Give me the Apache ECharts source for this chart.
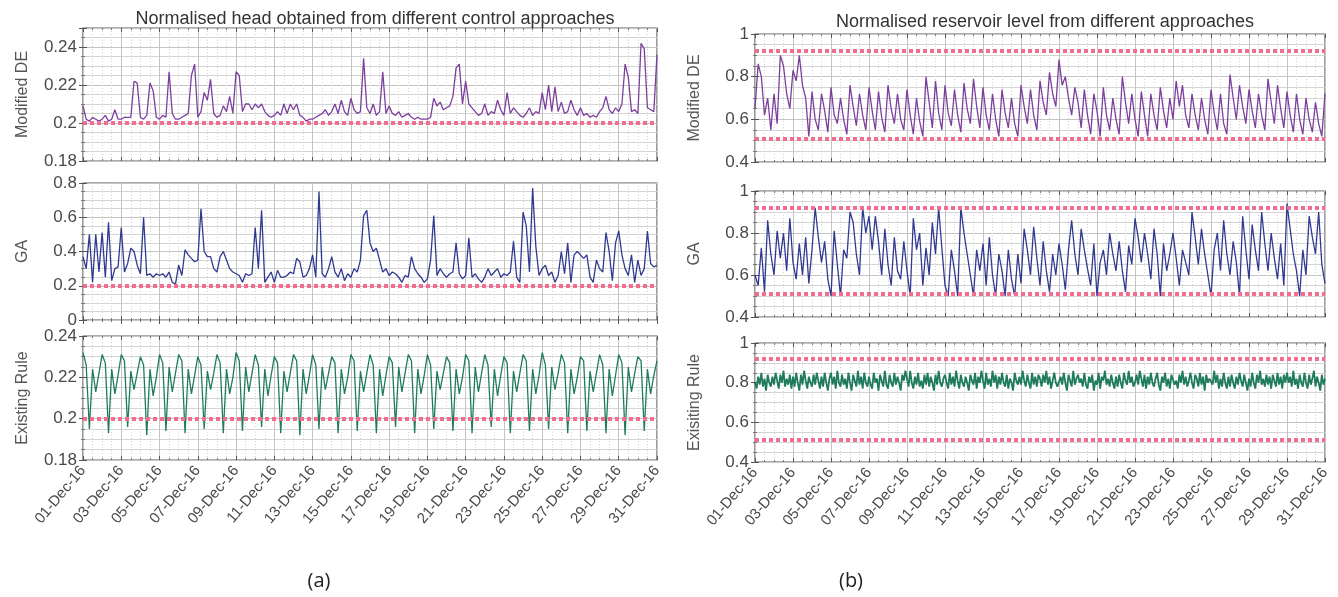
<html>
<head>
<meta charset="UTF-8"/>
<title>Normalised head and reservoir level</title>
<script src="https://cdn.jsdelivr.net/npm/echarts@6/dist/echarts.min.js"></script>
</head>
<body style="margin:0;background:#fff">
<div id="main" style="width:1338px;height:597px;"></div>
<script>
// samples cover 01-Dec-16 .. 31-Dec-16 (30 days); 4-hourly except levelRule (2-hourly)
var spanDays = 30;
var headLimit = 0.2;
var levelLimits = [0.51, 0.915];

var headDE = [
 0.209,0.202,0.201,0.203,0.202,0.201,
 0.202,0.204,0.201,0.202,0.207,0.202,
 0.202,0.203,0.203,0.203,0.222,0.221,
 0.203,0.202,0.204,0.221,0.217,0.203,
 0.202,0.204,0.203,0.227,0.205,0.202,
 0.202,0.203,0.204,0.205,0.225,0.231,
 0.203,0.206,0.216,0.212,0.223,0.205,
 0.203,0.204,0.209,0.206,0.214,0.205,
 0.227,0.225,0.206,0.210,0.210,0.207,
 0.210,0.208,0.210,0.206,0.204,0.203,
 0.204,0.206,0.204,0.210,0.205,0.210,
 0.207,0.210,0.204,0.203,0.201,0.202,
 0.202,0.203,0.204,0.205,0.207,0.204,
 0.206,0.210,0.205,0.212,0.206,0.204,
 0.213,0.207,0.205,0.206,0.234,0.208,
 0.205,0.210,0.204,0.206,0.227,0.205,
 0.209,0.205,0.204,0.206,0.203,0.204,
 0.205,0.203,0.202,0.203,0.202,0.202,
 0.202,0.203,0.213,0.209,0.211,0.207,
 0.208,0.209,0.214,0.229,0.231,0.210,
 0.222,0.210,0.208,0.206,0.204,0.205,
 0.210,0.204,0.206,0.205,0.212,0.207,
 0.204,0.216,0.205,0.208,0.206,0.204,
 0.203,0.205,0.208,0.204,0.206,0.205,
 0.216,0.207,0.220,0.206,0.219,0.206,
 0.211,0.205,0.206,0.212,0.207,0.204,
 0.208,0.204,0.205,0.203,0.204,0.203,
 0.206,0.208,0.214,0.207,0.205,0.208,
 0.206,0.210,0.231,0.224,0.206,0.207,
 0.205,0.242,0.239,0.208,0.207,0.206,
 0.236];

var headGA = [
 0.37,0.30,0.50,0.22,0.50,0.28,
 0.51,0.25,0.57,0.23,0.30,0.31,
 0.54,0.28,0.33,0.42,0.40,0.32,
 0.27,0.60,0.26,0.27,0.25,0.27,
 0.26,0.27,0.25,0.28,0.22,0.21,
 0.32,0.26,0.41,0.38,0.36,0.34,
 0.35,0.65,0.40,0.37,0.37,0.30,
 0.28,0.37,0.40,0.35,0.30,0.28,
 0.27,0.26,0.22,0.27,0.26,0.27,
 0.54,0.30,0.64,0.22,0.25,0.28,
 0.22,0.29,0.25,0.25,0.26,0.28,
 0.27,0.36,0.34,0.25,0.26,0.30,
 0.38,0.25,0.75,0.27,0.25,0.30,
 0.37,0.28,0.25,0.30,0.23,0.27,
 0.25,0.30,0.28,0.35,0.61,0.64,
 0.45,0.40,0.42,0.35,0.28,0.30,
 0.26,0.28,0.27,0.25,0.22,0.26,
 0.25,0.37,0.30,0.27,0.25,0.22,
 0.24,0.35,0.61,0.26,0.30,0.27,
 0.25,0.27,0.28,0.45,0.27,0.24,
 0.26,0.48,0.25,0.27,0.24,0.22,
 0.25,0.30,0.26,0.28,0.30,0.25,
 0.27,0.26,0.28,0.46,0.25,0.22,
 0.63,0.55,0.28,0.77,0.43,0.26,
 0.30,0.32,0.26,0.28,0.22,0.26,
 0.40,0.27,0.45,0.22,0.38,0.40,
 0.38,0.36,0.38,0.25,0.22,0.35,
 0.30,0.28,0.51,0.40,0.23,0.45,
 0.52,0.38,0.30,0.26,0.38,0.22,
 0.35,0.26,0.30,0.52,0.33,0.31,
 0.32];

var headRule = [
 0.232,0.226,0.195,0.224,0.213,0.222,
 0.231,0.227,0.193,0.224,0.212,0.221,
 0.231,0.228,0.196,0.223,0.214,0.222,
 0.230,0.226,0.192,0.224,0.211,0.220,
 0.231,0.227,0.194,0.225,0.213,0.222,
 0.231,0.228,0.193,0.224,0.212,0.221,
 0.230,0.226,0.195,0.223,0.214,0.222,
 0.231,0.227,0.193,0.224,0.212,0.220,
 0.232,0.228,0.194,0.225,0.213,0.222,
 0.231,0.226,0.196,0.224,0.211,0.221,
 0.230,0.227,0.193,0.223,0.213,0.222,
 0.231,0.228,0.192,0.224,0.212,0.221,
 0.231,0.226,0.195,0.225,0.214,0.222,
 0.230,0.227,0.193,0.224,0.212,0.220,
 0.231,0.228,0.194,0.223,0.213,0.222,
 0.231,0.226,0.193,0.224,0.211,0.221,
 0.230,0.227,0.196,0.225,0.213,0.222,
 0.231,0.228,0.193,0.224,0.212,0.221,
 0.231,0.226,0.195,0.223,0.214,0.222,
 0.230,0.227,0.194,0.224,0.212,0.220,
 0.231,0.228,0.193,0.225,0.213,0.222,
 0.231,0.226,0.196,0.224,0.211,0.221,
 0.230,0.227,0.193,0.223,0.213,0.222,
 0.231,0.228,0.194,0.224,0.212,0.221,
 0.232,0.226,0.195,0.225,0.214,0.222,
 0.231,0.227,0.193,0.224,0.212,0.220,
 0.230,0.228,0.194,0.223,0.213,0.222,
 0.231,0.226,0.193,0.224,0.211,0.221,
 0.231,0.227,0.192,0.225,0.213,0.222,
 0.230,0.228,0.194,0.224,0.212,0.221,
 0.228];

var levelDE = [
 0.65,0.86,0.80,0.62,0.70,0.55,
 0.72,0.58,0.90,0.85,0.72,0.65,
 0.83,0.78,0.90,0.76,0.70,0.52,
 0.73,0.60,0.55,0.72,0.64,0.54,
 0.75,0.62,0.58,0.70,0.60,0.53,
 0.76,0.66,0.57,0.72,0.62,0.55,
 0.75,0.64,0.55,0.73,0.61,0.54,
 0.76,0.65,0.58,0.72,0.60,0.55,
 0.74,0.62,0.53,0.70,0.59,0.52,
 0.80,0.68,0.56,0.78,0.63,0.55,
 0.76,0.63,0.57,0.74,0.62,0.54,
 0.77,0.65,0.58,0.79,0.66,0.56,
 0.75,0.62,0.55,0.72,0.60,0.52,
 0.74,0.63,0.56,0.70,0.58,0.52,
 0.76,0.66,0.58,0.74,0.62,0.55,
 0.78,0.68,0.62,0.82,0.72,0.66,
 0.88,0.76,0.80,0.70,0.62,0.75,
 0.68,0.56,0.74,0.62,0.53,0.72,
 0.64,0.52,0.75,0.62,0.55,0.70,
 0.60,0.53,0.80,0.68,0.58,0.72,
 0.60,0.52,0.73,0.62,0.52,0.72,
 0.62,0.55,0.75,0.64,0.56,0.70,
 0.60,0.78,0.66,0.76,0.62,0.56,
 0.72,0.62,0.55,0.70,0.60,0.53,
 0.74,0.63,0.55,0.72,0.58,0.53,
 0.81,0.70,0.60,0.76,0.66,0.58,
 0.74,0.64,0.56,0.72,0.62,0.55,
 0.79,0.68,0.58,0.76,0.65,0.56,
 0.73,0.62,0.54,0.72,0.60,0.53,
 0.70,0.60,0.54,0.68,0.58,0.52,
 0.72];

var levelGA = [
 0.60,0.55,0.73,0.52,0.86,0.70,
 0.60,0.81,0.68,0.80,0.62,0.87,
 0.66,0.58,0.75,0.60,0.78,0.56,
 0.72,0.92,0.78,0.66,0.76,0.58,
 0.50,0.81,0.65,0.50,0.72,0.68,
 0.90,0.85,0.70,0.60,0.92,0.80,
 0.88,0.72,0.88,0.76,0.60,0.82,
 0.65,0.55,0.78,0.62,0.58,0.76,
 0.62,0.50,0.87,0.72,0.80,0.55,
 0.73,0.60,0.85,0.70,0.92,0.73,
 0.55,0.50,0.72,0.62,0.50,0.92,
 0.80,0.70,0.60,0.50,0.72,0.62,
 0.75,0.55,0.78,0.60,0.50,0.70,
 0.62,0.50,0.72,0.58,0.50,0.70,
 0.56,0.82,0.72,0.60,0.83,0.68,
 0.55,0.76,0.62,0.52,0.70,0.60,
 0.75,0.65,0.53,0.72,0.86,0.70,
 0.60,0.82,0.72,0.63,0.55,0.75,
 0.50,0.66,0.72,0.60,0.80,0.70,
 0.62,0.76,0.62,0.52,0.74,0.65,
 0.87,0.78,0.66,0.80,0.70,0.58,
 0.82,0.70,0.50,0.75,0.62,0.70,
 0.80,0.68,0.55,0.72,0.66,0.60,
 0.90,0.78,0.65,0.82,0.70,0.60,
 0.50,0.72,0.80,0.62,0.86,0.70,
 0.60,0.76,0.66,0.50,0.88,0.72,
 0.58,0.84,0.72,0.62,0.90,0.75,
 0.62,0.80,0.68,0.58,0.75,0.55,
 0.94,0.82,0.70,0.62,0.50,0.72,
 0.60,0.88,0.78,0.70,0.90,0.65,
 0.56];

var levelRule = [
 0.80,0.77,0.83,0.79,0.85,0.78,0.82,0.76,0.84,0.80,0.78,0.83,
 0.79,0.85,0.81,0.77,0.84,0.80,0.86,0.78,0.82,0.79,0.84,0.77,
 0.83,0.78,0.85,0.80,0.76,0.84,0.79,0.86,0.81,0.77,0.83,0.80,
 0.78,0.84,0.79,0.85,0.81,0.77,0.83,0.78,0.85,0.80,0.76,0.82,
 0.85,0.79,0.83,0.77,0.86,0.80,0.78,0.84,0.79,0.82,0.77,0.85,
 0.80,0.76,0.84,0.81,0.78,0.86,0.79,0.83,0.77,0.85,0.80,0.78,
 0.83,0.79,0.77,0.85,0.80,0.82,0.76,0.84,0.81,0.78,0.86,0.79,
 0.77,0.84,0.80,0.78,0.85,0.79,0.83,0.80,0.76,0.84,0.81,0.86,
 0.82,0.78,0.86,0.80,0.77,0.83,0.79,0.85,0.78,0.81,0.77,0.84,
 0.79,0.85,0.78,0.83,0.80,0.76,0.84,0.79,0.86,0.80,0.78,0.82,
 0.84,0.80,0.77,0.85,0.79,0.83,0.78,0.86,0.81,0.77,0.84,0.80,
 0.78,0.83,0.80,0.76,0.84,0.81,0.79,0.85,0.77,0.83,0.80,0.86,
 0.81,0.77,0.85,0.79,0.82,0.78,0.86,0.80,0.84,0.77,0.83,0.79,
 0.85,0.80,0.78,0.84,0.77,0.82,0.80,0.76,0.85,0.81,0.79,0.83,
 0.79,0.86,0.81,0.78,0.84,0.80,0.77,0.85,0.79,0.83,0.78,0.84,
 0.82,0.78,0.84,0.80,0.86,0.79,0.83,0.77,0.81,0.85,0.80,0.78,
 0.77,0.83,0.79,0.85,0.80,0.76,0.84,0.81,0.78,0.86,0.79,0.82,
 0.84,0.80,0.82,0.78,0.85,0.79,0.77,0.83,0.80,0.84,0.76,0.81,
 0.79,0.85,0.77,0.83,0.81,0.86,0.79,0.82,0.78,0.84,0.80,0.77,
 0.83,0.78,0.84,0.80,0.77,0.85,0.81,0.79,0.86,0.80,0.83,0.78,
 0.80,0.84,0.79,0.86,0.82,0.78,0.84,0.77,0.83,0.79,0.85,0.80,
 0.78,0.82,0.85,0.79,0.76,0.83,0.80,0.85,0.78,0.82,0.77,0.84,
 0.85,0.79,0.81,0.77,0.84,0.80,0.86,0.79,0.83,0.78,0.81,0.85,
 0.80,0.77,0.84,0.82,0.78,0.85,0.79,0.83,0.76,0.84,0.80,0.82,
 0.83,0.79,0.86,0.80,0.84,0.77,0.82,0.78,0.85,0.80,0.77,0.83,
 0.78,0.84,0.80,0.77,0.83,0.79,0.85,0.81,0.78,0.84,0.80,0.76,
 0.82,0.78,0.85,0.80,0.77,0.84,0.80,0.86,0.79,0.82,0.78,0.84,
 0.79,0.83,0.77,0.84,0.81,0.78,0.85,0.79,0.83,0.77,0.84,0.80,
 0.85,0.80,0.83,0.78,0.86,0.79,0.82,0.77,0.84,0.80,0.78,0.85,
 0.80,0.77,0.84,0.79,0.82,0.86,0.78,0.83,0.80,0.76,0.84,0.79,
 0.82];

var panels = [
  {name: 'Modified DE',    data: headDE,    color: '#7d3f9d', lw: 1.3, limits: [headLimit], yMin: 0.18, yMax: 0.25, yStep: 0.02, left: 83,  top: 28,  width: 574, height: 133},
  {name: 'GA',             data: headGA,    color: '#2f3990', lw: 1.3, limits: [headLimit], yMin: 0,    yMax: 0.8,  yStep: 0.2,  left: 83,  top: 183, width: 574, height: 137},
  {name: 'Existing Rule',  data: headRule,  color: '#1f7b5e', lw: 1.3, limits: [headLimit], yMin: 0.18, yMax: 0.24, yStep: 0.02, left: 83,  top: 336, width: 574, height: 124, dates: true},
  {name: 'Modified DE',    data: levelDE,   color: '#7d3f9d', lw: 1.3, limits: levelLimits, yMin: 0.4,  yMax: 1,    yStep: 0.2,  left: 755, top: 34,  width: 570, height: 128},
  {name: 'GA',             data: levelGA,   color: '#2f3990', lw: 1.3, limits: levelLimits, yMin: 0.4,  yMax: 1,    yStep: 0.2,  left: 755, top: 191, width: 570, height: 126},
  {name: 'Exisiting Rule', data: levelRule, color: '#1f7b5e', lw: 1.8, limits: levelLimits, yMin: 0.4,  yMax: 1,    yStep: 0.2,  left: 755, top: 343, width: 570, height: 119, dates: true}
];

var font = 'Liberation Sans, Arial, sans-serif';
var grids = [], xAxes = [], yAxes = [], series = [];

panels.forEach(function (p, i) {
  grids.push({left: p.left, top: p.top, width: p.width, height: p.height,
    show: true, borderColor: '#5a5a5a', borderWidth: 1.2, backgroundColor: '#fff'});

  // bottom x axis (labels on last row only)
  xAxes.push({
    type: 'value', gridIndex: i, min: 0, max: spanDays, interval: 2, position: 'bottom',
    axisLine: {show: false},
    axisTick: {show: true, inside: true, length: 4, lineStyle: {color: '#555'}},
    minorTick: {show: true, splitNumber: 4, length: 2, lineStyle: {color: '#777'}},
    splitLine: {show: true, lineStyle: {color: '#c4c4c4', width: 1}},
    minorSplitLine: {show: true, lineStyle: {color: '#d4d4d4', width: 1, type: [1, 2]}},
    axisLabel: {
      show: !!p.dates, rotate: 50, margin: 8, color: '#4a4a4a', fontSize: 15, fontFamily: font,
      formatter: function (v) { var d = Math.round(v) + 1; return (d < 10 ? '0' + d : d) + '-Dec-16'; }
    }
  });
  // top x axis for inner ticks only
  xAxes.push({
    type: 'value', gridIndex: i, min: 0, max: spanDays, interval: 2, position: 'top',
    axisLine: {show: false}, axisLabel: {show: false}, splitLine: {show: false},
    axisTick: {show: true, inside: true, length: 4, lineStyle: {color: '#555'}},
    minorTick: {show: true, splitNumber: 4, length: 2, lineStyle: {color: '#777'}}
  });

  yAxes.push({
    type: 'value', gridIndex: i, min: p.yMin, max: p.yMax, interval: p.yStep, position: 'left',
    name: p.name, nameLocation: 'middle', nameGap: 52,
    nameTextStyle: {color: '#555', fontSize: 16, fontFamily: font},
    axisLine: {show: false},
    axisTick: {show: true, inside: true, length: 4, lineStyle: {color: '#555'}},
    minorTick: {show: true, splitNumber: 4, length: 2, lineStyle: {color: '#777'}},
    splitLine: {show: true, lineStyle: {color: '#c4c4c4', width: 1}},
    minorSplitLine: {show: true, lineStyle: {color: '#d4d4d4', width: 1}},
    axisLabel: {color: '#4a4a4a', fontSize: 17, fontFamily: font, margin: 6, showMaxLabel: p.yMax === 0.25 ? false : true}
  });
  yAxes.push({
    type: 'value', gridIndex: i, min: p.yMin, max: p.yMax, interval: p.yStep, position: 'right',
    axisLine: {show: false}, axisLabel: {show: false}, splitLine: {show: false},
    axisTick: {show: true, inside: true, length: 4, lineStyle: {color: '#555'}},
    minorTick: {show: true, splitNumber: 4, length: 2, lineStyle: {color: '#777'}}
  });

  var step = spanDays / (p.data.length - 1);
  series.push({
    type: 'line', xAxisIndex: 2 * i, yAxisIndex: 2 * i,
    showSymbol: false, symbol: 'none', silent: true,
    lineStyle: {color: p.color, width: p.lw},
    data: p.data.map(function (v, k) { return [k * step, v]; }),
    markLine: {
      silent: true, symbol: 'none', label: {show: false},
      lineStyle: {color: '#f26d8f', width: 4, type: [4, 3], opacity: 1},
      data: p.limits.map(function (v) { return {yAxis: v}; })
    },
    z: 3
  });
});

var chart = echarts.init(document.getElementById('main'));
chart.setOption({
  animation: false,
  backgroundColor: '#fff',
  title: [
    {text: 'Normalised head obtained from different control approaches', left: 370, top: 5, textAlign: 'center',
      textStyle: {fontSize: 18, fontWeight: 'normal', color: '#333', fontFamily: 'Liberation Sans Narrow, Arial Narrow, sans-serif'}},
    {text: 'Normalised reservoir level from different approaches', left: 1040, top: 8, textAlign: 'center',
      textStyle: {fontSize: 18, fontWeight: 'normal', color: '#333', fontFamily: 'Liberation Sans Narrow, Arial Narrow, sans-serif'}},
    {text: '(a)', left: 314, top: 566, textAlign: 'center',
      textStyle: {fontSize: 20, fontWeight: 'normal', color: '#222', fontFamily: 'Open Sans, sans-serif'}},
    {text: '(b)', left: 846, top: 566, textAlign: 'center',
      textStyle: {fontSize: 20, fontWeight: 'normal', color: '#222', fontFamily: 'Open Sans, sans-serif'}}
  ],
  grid: grids,
  xAxis: xAxes,
  yAxis: yAxes,
  series: series
});
</script>
</body>
</html>
